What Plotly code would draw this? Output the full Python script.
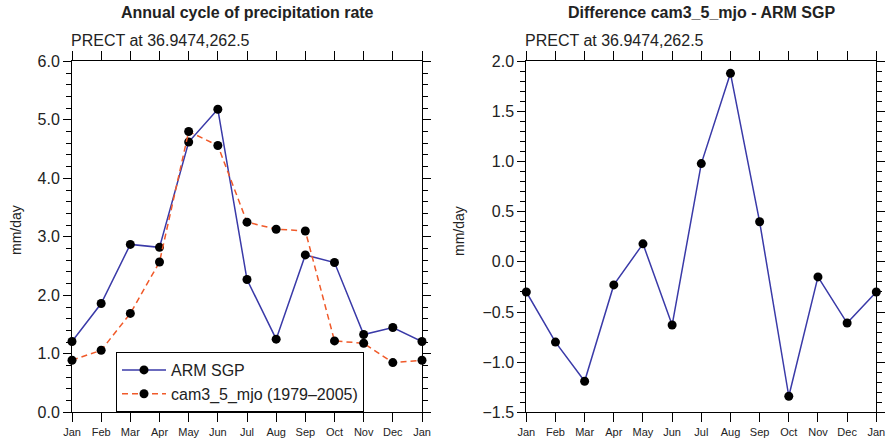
import plotly.graph_objects as go

months = ["Jan", "Feb", "Mar", "Apr", "May", "Jun", "Jul", "Aug", "Sep", "Oct", "Nov", "Dec", "Jan"]
month_pos = list(range(13))

arm_sgp = [1.21, 1.86, 2.87, 2.82, 4.62, 5.18, 2.27, 1.25, 2.69, 2.56, 1.33, 1.45, 1.21]
cam3 = [0.89, 1.06, 1.69, 2.57, 4.80, 4.56, 3.25, 3.13, 3.10, 1.22, 1.18, 0.85, 0.89]
diff = [-0.30, -0.80, -1.19, -0.23, 0.18, -0.63, 0.98, 1.88, 0.40, -1.34, -0.15, -0.61, -0.30]

BLUE = "#3a3aa8"
RED = "#f05a2a"
FONT = "Liberation Sans, Arial, Helvetica, sans-serif"
TXT = "#222"

fig = go.Figure()

fig.add_trace(go.Scatter(
    x=month_pos, y=arm_sgp, name="ARM SGP", mode="lines+markers",
    line=dict(color=BLUE, width=1.5),
    marker=dict(color="black", size=9),
    cliponaxis=False, xaxis="x", yaxis="y"))
fig.add_trace(go.Scatter(
    x=month_pos, y=cam3, name="cam3_5_mjo (1979\u20132005)", mode="lines+markers",
    line=dict(color=RED, width=1.5, dash="6px,4px"),
    marker=dict(color="black", size=9),
    cliponaxis=False, xaxis="x", yaxis="y"))
fig.add_trace(go.Scatter(
    x=month_pos, y=diff, name="diff", mode="lines+markers",
    line=dict(color=BLUE, width=1.5),
    marker=dict(color="black", size=9),
    cliponaxis=False, showlegend=False, xaxis="x2", yaxis="y2"))

W, H = 889, 441
def px(xp):
    return xp / W
def py(yp):
    return (H - yp) / H

common_x = dict(
    range=[0, 12], tickvals=month_pos, ticktext=months,
    showline=True, linecolor="black", linewidth=1, mirror="allticks",
    ticks="outside", ticklen=9, tickcolor="black", tickwidth=1,
    tickfont=dict(family=FONT, size=11, color=TXT),
    showgrid=False, zeroline=False, fixedrange=True, automargin=False,
)
common_y = dict(
    showline=True, linecolor="black", linewidth=1, mirror="allticks",
    ticks="outside", ticklen=8, tickcolor="black", tickwidth=1,
    tickfont=dict(family=FONT, size=16, color=TXT),
    showgrid=False, zeroline=False, fixedrange=True, automargin=False,
)

fig.update_layout(
    width=W, height=H,
    margin=dict(l=0, r=0, t=0, b=0, autoexpand=False),
    paper_bgcolor="white", plot_bgcolor="white",
    font=dict(family=FONT, color="black"),
    xaxis=dict(domain=[px(72), px(422)], anchor="y", **common_x),
    yaxis=dict(domain=[py(412.3), py(61.3)], anchor="x", range=[0, 6], dtick=1, tickformat=".1f",
               minor=dict(dtick=0.2, ticklen=5, tickcolor="black", ticks="outside"), **common_y),
    xaxis2=dict(domain=[px(526.3), px(876.3)], anchor="y2", **common_x),
    yaxis2=dict(domain=[py(412.3), py(61.3)], anchor="x2", range=[-1.5, 2.0], dtick=0.5, tickformat=".1f",
                minor=dict(dtick=0.1, ticklen=5, tickcolor="black", ticks="outside"), **common_y),
    legend=dict(
        x=px(116), y=py(352), xanchor="left", yanchor="top",
        bordercolor="black", borderwidth=1, bgcolor="white",
        font=dict(family=FONT, size=16, color=TXT),
        tracegroupgap=0, itemwidth=44,
    ),
    showlegend=True,
)

annotations = [
    dict(text="<b>Annual cycle of precipitation rate</b>", x=px(247), y=py(13), xanchor="center", yanchor="middle",
         font=dict(size=16, family=FONT, color=TXT)),
    dict(text="PRECT at 36.9474,262.5", x=px(69), y=py(41), xanchor="left", yanchor="middle",
         font=dict(size=16, family=FONT, color=TXT)),
    dict(text="mm/day", x=px(16), y=py(230), xanchor="center", yanchor="middle", textangle=-90,
         font=dict(size=14, family=FONT, color=TXT)),
    dict(text="<b>Difference cam3_5_mjo - ARM SGP</b>", x=px(701), y=py(13), xanchor="center", yanchor="middle",
         font=dict(size=16, family=FONT, color=TXT)),
    dict(text="PRECT at 36.9474,262.5", x=px(523), y=py(41), xanchor="left", yanchor="middle",
         font=dict(size=16, family=FONT, color=TXT)),
    dict(text="mm/day", x=px(459), y=py(231), xanchor="center", yanchor="middle", textangle=-90,
         font=dict(size=14, family=FONT, color=TXT)),
]
for a in annotations:
    a.update(xref="paper", yref="paper", showarrow=False)
fig.update_layout(annotations=annotations)

fig.write_html("out.html")
